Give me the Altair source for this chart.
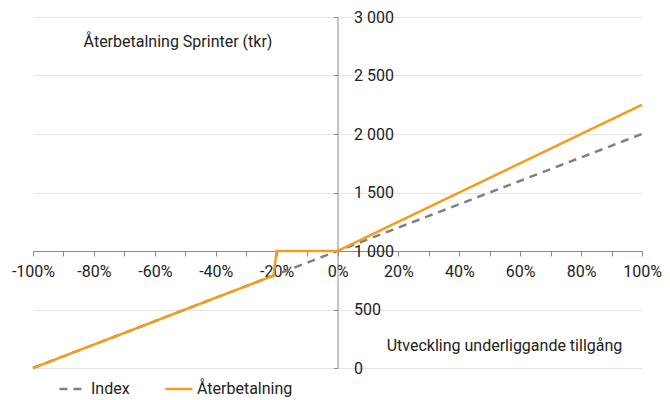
import altair as alt
import pandas as pd

# Data
index_x = [-1.0, 1.0]
index_y = [0, 2000]
payoff_x = [-1.0, -0.21, -0.20, 0.0, 1.0]
payoff_y = [0, 790, 1000, 1000, 2250]
series_names = ["Index", "Återbetalning"]

rows = []
for i, (x, y) in enumerate(zip(index_x, index_y)):
    rows.append({"serie": series_names[0], "x": x, "y": y, "o": i})
for i, (x, y) in enumerate(zip(payoff_x, payoff_y)):
    rows.append({"serie": series_names[1], "x": x, "y": y, "o": i})
df = pd.DataFrame(rows)

W, H = 609, 351
FONT = "Roboto"

x_axis = alt.Axis(
    values=[v / 10 for v in range(-10, 11)],
    labelExpr="round(datum.value*100) % 20 == 0 ? round(datum.value*100) + '%' : ''",
    offset=-H / 3,
    grid=False,
    domainColor="#8a8a8a",
    tickColor="#8a8a8a",
    tickSize=5,
    labelFontSize=16,
    labelFont=FONT,
    labelColor="#222222",
    labelPadding=7,
    labelFlush=False,
    labelOverlap=False,
    labelBound=False,
    title="Utveckling underliggande tillgång",
    titleFont=FONT,
    titleFontSize=16,
    titleFontWeight="normal",
    titleColor="#222222",
    titleX=471,
    titleY=94,
    titleAlign="center",
    titleBaseline="middle",
)

y_axis = alt.Axis(
    values=[0, 500, 1000, 1500, 2000, 2500, 3000],
    labelExpr="replace(format(datum.value, ','), ',', ' ')",
    orient="left",
    offset=-W / 2,
    grid=True,
    gridColor="#e3e3e3",
    domainColor="#8a8a8a",
    tickColor="#8a8a8a",
    tickSize=4,
    labelAlign="left",
    labelPadding=-20,
    labelFontSize=16,
    labelFont=FONT,
    labelColor="#222222",
    labelFlush=False,
    title="Återbetalning Sprinter (tkr)",
    titleFont=FONT,
    titleFontSize=16,
    titleFontWeight="normal",
    titleColor="#222222",
    titleAngle=0,
    titleX=-160,
    titleY=24,
    titleAlign="center",
    titleBaseline="middle",
)

legend_cfg = dict(
    title=None,
    orient="none",
    direction="horizontal",
    legendX=25,
    legendY=357,
    padding=0,
    symbolType="stroke",
    symbolSize=729,
    symbolStrokeWidth=2.5,
    labelFont=FONT,
    labelFontSize=16,
    labelColor="#222222",
    columnPadding=30,
    labelOffset=3,
)

chart = (
    alt.Chart(df)
    .mark_line(strokeWidth=2.5)
    .encode(
        x=alt.X("x:Q", scale=alt.Scale(domain=[-1, 1], nice=False, zero=False), axis=x_axis),
        y=alt.Y("y:Q", scale=alt.Scale(domain=[0, 3000], nice=False), axis=y_axis),
        order="o:Q",
        color=alt.Color(
            "serie:N",
            scale=alt.Scale(domain=series_names, range=["#808080", "#F59C1A"]),
            legend=alt.Legend(**legend_cfg),
        ),
        strokeDash=alt.StrokeDash(
            "serie:N",
            scale=alt.Scale(domain=series_names, range=[[8, 6], [1, 0]]),
            legend=alt.Legend(**legend_cfg),
        ),
    )
    .properties(
        width=W,
        height=H,
        autosize=alt.AutoSizeParams(type="none"),
        padding={"left": 25, "top": 9, "right": 20, "bottom": 32},
    )
    .configure_view(stroke=None)
)

chart.save("out.html", embed_options={"renderer": "svg", "actions": False})
